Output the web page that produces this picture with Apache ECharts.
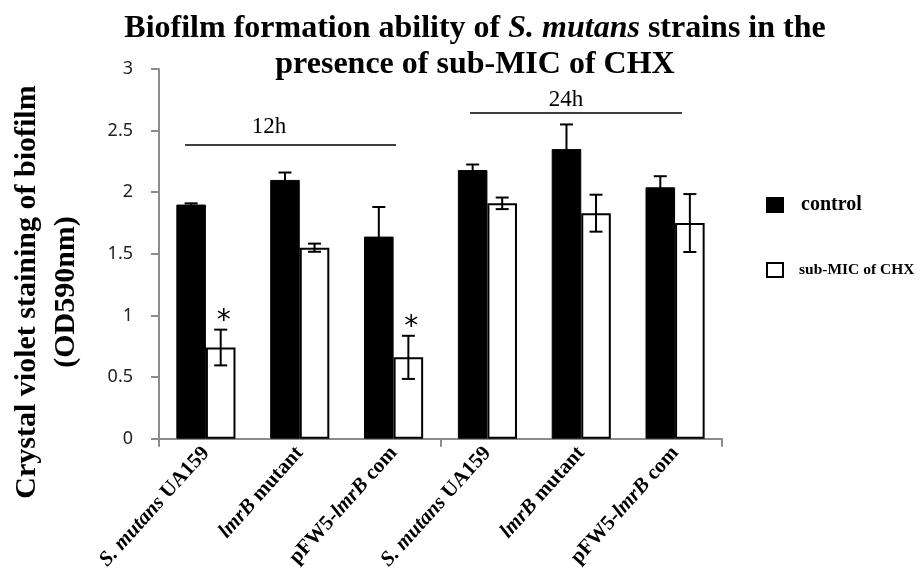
<!DOCTYPE html>
<html>
<head>
<meta charset="utf-8">
<script src="https://cdn.jsdelivr.net/npm/echarts@6/dist/echarts.min.js"></script>
<style>
  html, body { margin: 0; padding: 0; background: #ffffff; }
  #chart { width: 921px; height: 573px; }
</style>
</head>
<body>
<div id="chart"></div>
<script>
// ---- data ----
const categories = ['S. mutans UA159', 'lmrB mutant', 'pFW5-lmrB com', 'S. mutans UA159', 'lmrB mutant', 'pFW5-lmrB com'];
const italicParts = ['S. mutans', 'lmrB', 'lmrB', 'S. mutans', 'lmrB', 'lmrB'];
const groups = ['12h', '24h'];
const seriesNames = ['control', 'sub-MIC of CHX'];
const controlValues = [1.90, 2.10, 1.64, 2.18, 2.35, 2.04];
const controlErrors = [0.01, 0.06, 0.24, 0.045, 0.20, 0.09];
const chxValues = [0.74, 1.55, 0.66, 1.91, 1.83, 1.75];
const chxErrors = [0.145, 0.033, 0.175, 0.047, 0.15, 0.235];
const chxMarks = ['*', '', '*', '', '', ''];
const controlMarks = ['', '', '', '', '', ''];
const yMin = 0, yMax = 3, yStep = 0.5;

const chart = echarts.init(document.getElementById('chart'), null, { renderer: 'canvas' });

const SERIF = "'Liberation Serif', 'DejaVu Serif', serif";
const CAT_GAP = 0.37;

function richLabel(name, italic) {
  const i = name.indexOf(italic);
  if (i < 0) return '{b|' + name + '}';
  let s = '';
  const pre = name.slice(0, i), post = name.slice(i + italic.length);
  if (pre) s += '{b|' + pre + '}';
  s += '{i|' + italic + '}';
  if (post) s += '{b|' + post + '}';
  return s;
}

function errorSeries(values, errors, marks, side) {
  return {
    type: 'custom',
    xAxisIndex: 0,
    z: 5,
    silent: true,
    data: values.map((v, i) => [i, v, errors[i]]),
    renderItem: function (params, api) {
      const idx = api.value(0), v = api.value(1), e = api.value(2);
      const mark = marks[params.dataIndex];
      const bw = api.size([1, 0])[0];
      const barW = bw * (1 - CAT_GAP) / 2;
      const off = side * barW / 2;
      const top = api.coord([idx, v + e]);
      const bot = api.coord([idx, v - e]);
      const x = top[0] + off;
      const cap = 6.5;
      const st = { stroke: '#000', lineWidth: 2 };
      const children = [
        { type: 'line', shape: { x1: x, y1: top[1], x2: x, y2: bot[1] }, style: st },
        { type: 'line', shape: { x1: x - cap, y1: top[1], x2: x + cap, y2: top[1] }, style: st },
        { type: 'line', shape: { x1: x - cap, y1: bot[1], x2: x + cap, y2: bot[1] }, style: st }
      ];
      if (mark) {
        children.push({
          type: 'text',
          style: {
            text: mark, x: x + 3, y: top[1] - 8,
            fill: '#000', font: "28px 'DejaVu Sans', sans-serif",
            textAlign: 'center', textVerticalAlign: 'middle'
          }
        });
      }
      return { type: 'group', children: children };
    }
  };
}

const option = {
  backgroundColor: '#ffffff',
  animation: false,
  title: {
    left: 470,
    top: 6,
    textAlign: 'center',
    text: '{b|Biofilm formation ability of }{i|S. mutans}{b| strains in the}\n{b|presence of sub-MIC of CHX}',
    textStyle: {
      rich: {
        b: { fontFamily: SERIF, fontWeight: 'bold', fontSize: 32, color: '#000', lineHeight: 36 },
        i: { fontFamily: SERIF, fontWeight: 'bold', fontStyle: 'italic', fontSize: 32, color: '#000', lineHeight: 36 }
      }
    }
  },
  legend: {
    orient: 'vertical',
    left: 761,
    top: 190,
    itemGap: 47,
    itemWidth: 16,
    itemHeight: 14,
    data: [
      { name: seriesNames[0], icon: 'rect', textStyle: { fontFamily: SERIF, fontWeight: 'bold', fontSize: 20, color: '#000', padding: [0, 0, 0, 13] } },
      { name: seriesNames[1], icon: 'rect', textStyle: { fontFamily: SERIF, fontWeight: 'bold', fontSize: 15.5, color: '#000', padding: [0, 0, 0, 11] } }
    ]
  },
  grid: { left: 159, right: 199, top: 69, bottom: 134, containLabel: false },
  xAxis: [
    {
      type: 'category',
      data: categories,
      position: 'bottom',
      axisLine: { show: false },
      axisTick: { show: false },
      axisLabel: {
        interval: 0,
        rotate: 48,
        margin: 11,
        formatter: function (v, i) { return richLabel(v, italicParts[i]); },
        rich: {
          b: { fontFamily: SERIF, fontWeight: 'bold', fontSize: 21, color: '#000' },
          i: { fontFamily: SERIF, fontWeight: 'bold', fontStyle: 'italic', fontSize: 21, color: '#000' }
        }
      }
    },
    {
      type: 'category',
      data: groups,
      position: 'bottom',
      axisLine: { show: true, lineStyle: { color: '#8c8c8c', width: 2 } },
      axisTick: { show: true, length: 8, lineStyle: { color: '#8c8c8c', width: 2 } },
      axisLabel: { show: false }
    }
  ],
  yAxis: {
    type: 'value',
    min: yMin, max: yMax, interval: yStep,
    splitLine: { show: false },
    axisLine: { show: true, lineStyle: { color: '#8c8c8c', width: 2 } },
    axisTick: { show: true, length: 8, lineStyle: { color: '#8c8c8c', width: 2 } },
    axisLabel: { margin: 26, fontFamily: "'Noto Sans', 'Open Sans', sans-serif", fontSize: 18, color: '#222' }
  },
  series: [
    {
      name: seriesNames[0], type: 'bar', xAxisIndex: 0,
      data: controlValues,
      barGap: '0%', barCategoryGap: (CAT_GAP * 100) + '%',
      itemStyle: { color: '#000', borderColor: '#000', borderWidth: 1 }
    },
    {
      name: seriesNames[1], type: 'bar', xAxisIndex: 0,
      data: chxValues,
      barGap: '0%', barCategoryGap: (CAT_GAP * 100) + '%',
      itemStyle: { color: '#fff', borderColor: '#000', borderWidth: 2 }
    },
    errorSeries(controlValues, controlErrors, controlMarks, -1),
    errorSeries(chxValues, chxErrors, chxMarks, 1)
  ],
  graphic: [
    { type: 'line', shape: { x1: 185, y1: 145, x2: 396, y2: 145 }, style: { stroke: '#000', lineWidth: 1.3 } },
    { type: 'text', x: 269, y: 127, style: { text: groups[0], font: "23px " + SERIF, fill: '#000', textAlign: 'center', textVerticalAlign: 'middle' } },
    { type: 'line', shape: { x1: 470, y1: 113, x2: 682, y2: 113 }, style: { stroke: '#000', lineWidth: 1.3 } },
    { type: 'text', x: 566, y: 100, style: { text: groups[1], font: "23px " + SERIF, fill: '#000', textAlign: 'center', textVerticalAlign: 'middle' } },
    {
      type: 'text', x: 47, y: 292, rotation: Math.PI / 2,
      style: {
        text: 'Crystal violet staining of biofilm\n(OD590nm)',
        font: "bold 30px " + SERIF, fill: '#000',
        textAlign: 'center', textVerticalAlign: 'middle', lineHeight: 39
      }
    }
  ]
};

chart.setOption(option);
</script>
</body>
</html>
